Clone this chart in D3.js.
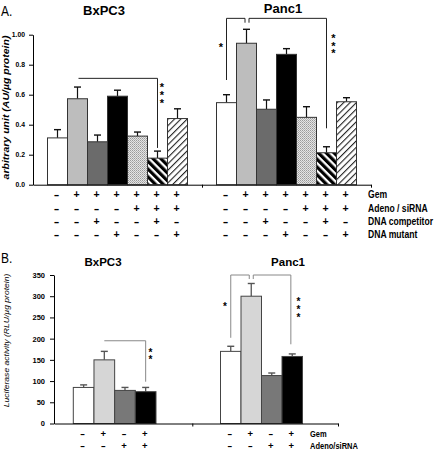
<!DOCTYPE html>
<html><head><meta charset="utf-8">
<script src="https://cdn.jsdelivr.net/npm/d3@7"></script>
<style>body{margin:0;background:#fff}svg{display:block;font-family:Arial,"Liberation Sans",sans-serif}</style>
</head><body>
<svg id="c" width="435" height="450"></svg>
<script>
// ---------- data ----------
const groups = ["BxPC3", "Panc1"];
// Panel A (arbitrary unit AU/µg protein)
const condA = ["ctrl", "gem", "gem+comp", "gem+mut", "gem+adeno", "gem+adeno+comp", "gem+adeno+mut"];
const bxpc3A = [0.312, 0.573, 0.286, 0.590, 0.324, 0.177, 0.441];
const bxpc3AErr = [0.055, 0.078, 0.045, 0.040, 0.027, 0.047, 0.065];
const panc1A = [0.547, 0.943, 0.503, 0.869, 0.449, 0.213, 0.553];
const panc1AErr = [0.053, 0.093, 0.062, 0.038, 0.071, 0.040, 0.027];
const yTicksA = [0, 0.2, 0.4, 0.6, 0.8, 1.0];
const yTickLabelsA = ["0.0", "0.2", "0.4", "0.6", "0.8", "1.00"];
const rowLabelsA = ["Gem", "Adeno / siRNA", "DNA competitor", "DNA mutant"];
const rowGemA = ["-", "+", "+", "+", "+", "+", "+"];
const rowAdenoA = ["-", "-", "-", "-", "+", "+", "+"];
const rowCompA = ["-", "-", "+", "-", "-", "+", "-"];
const rowMutA = ["-", "-", "-", "+", "-", "-", "+"];
// Panel B (Luciferase activity RLU/µg protein)
const condB = ["ctrl", "gem", "adeno", "gem+adeno"];
const bxpc3B = [85, 150, 78, 75];
const bxpc3BErr = [6, 20, 7, 10];
const panc1B = [170, 300, 113, 158];
const panc1BErr = [12, 30, 6, 6];
const yTicksB = [0, 50, 100, 150, 200, 250, 300, 350];
const rowLabelsB = ["Gem", "Adeno/siRNA"];
const rowGemB = ["-", "+", "-", "+"];
const rowAdenoB = ["-", "-", "+", "+"];

// ---------- setup ----------
const svg = d3.select("#c");
const defs = svg.append("defs");
const pd = defs.append("pattern").attr("id", "dots").attr("patternUnits", "userSpaceOnUse").attr("width", 2).attr("height", 2);
pd.append("rect").attr("width", 2).attr("height", 2).attr("fill", "#e4e4e4");
pd.append("rect").attr("width", 1).attr("height", 1).attr("fill", "#9a9a9a");
pd.append("rect").attr("x", 1).attr("y", 1).attr("width", 1).attr("height", 1).attr("fill", "#b4b4b4");
const ph = defs.append("pattern").attr("id", "hatchDark").attr("patternUnits", "userSpaceOnUse").attr("width", 5.5).attr("height", 6).attr("patternTransform", "rotate(-45)");
ph.append("rect").attr("width", 5.5).attr("height", 6).attr("fill", "#fff");
ph.append("rect").attr("width", 3.2).attr("height", 6).attr("fill", "#000");
const pl = defs.append("pattern").attr("id", "hatchLight").attr("patternUnits", "userSpaceOnUse").attr("width", 4.5).attr("height", 6).attr("patternTransform", "rotate(45)");
pl.append("rect").attr("width", 4.5).attr("height", 6).attr("fill", "#fff");
pl.append("rect").attr("width", 1.1).attr("height", 6).attr("fill", "#222");

const fillsA = ["#ffffff", "#bdbdbd", "#6b6b6b", "#000000", "url(#dots)", "url(#hatchDark)", "url(#hatchLight)"];
const fillsB = ["#ffffff", "#d6d6d6", "#787878", "#000000"];

function txt(x, y, s, o = {}) {
  return svg.append("text")
    .attr("transform", `translate(${x},${y}) rotate(${o.rot || 0}) scale(${o.sx || 1},${o.sy || 1})`)
    .attr("font-size", o.size || 10)
    .attr("font-weight", o.weight || "normal")
    .attr("font-style", o.style || "normal")
    .attr("text-anchor", o.anchor || "start")
    .attr("fill", o.fill || "#000")
    .text(s);
}
function sym(x, y, s, size) {
  // "-" drawn a little wider, like the reference
  return txt(x, y, s, { size: size, weight: "bold", anchor: "middle", sx: s === "-" ? 1.6 : 1 });
}

// ---------- Panel A ----------
const yA = d3.scaleLinear().domain([0, 1]).range([184.7, 34.7]);
const xAxisA = d3.scaleLinear().domain([0, 1, 2]).range([33, 202, 371]);
const xBandA = {
  BxPC3: d3.scaleBand().domain(condA).range([47.5, 187.5]).padding(0),
  Panc1: d3.scaleBand().domain(condA).range([216.5, 356.5]).padding(0)
};
const dataA = { BxPC3: [bxpc3A, bxpc3AErr], Panc1: [panc1A, panc1AErr] };

const gA = svg.append("g");
groups.forEach(gname => {
  const xs = xBandA[gname];
  const [vals, errs] = dataA[gname];
  condA.forEach((c, i) => {
    const x0 = xs(c), w = xs.bandwidth(), cx = x0 + w / 2;
    gA.append("line").attr("x1", cx).attr("x2", cx).attr("y1", yA(vals[i])).attr("y2", yA(vals[i] + errs[i])).attr("stroke", "#111").attr("stroke-width", 1.2);
    gA.append("line").attr("x1", cx - 3.5).attr("x2", cx + 3.5).attr("y1", yA(vals[i] + errs[i])).attr("y2", yA(vals[i] + errs[i])).attr("stroke", "#111").attr("stroke-width", 1.4);
    gA.append("rect").attr("x", x0).attr("y", yA(vals[i])).attr("width", w).attr("height", yA(0) - yA(vals[i]))
      .attr("fill", fillsA[i]).attr("stroke", "#333").attr("stroke-width", 1);
  });
});
const axLA = svg.append("g").attr("transform", `translate(33,0)`)
  .call(d3.axisLeft(yA).tickValues(yTicksA).tickFormat((d, i) => yTickLabelsA[i]).tickSize(4).tickSizeOuter(0));
axLA.selectAll("text").attr("font-size", 6.8).attr("font-weight", "bold").attr("font-family", "Arial, 'Liberation Sans', sans-serif").attr("dx", "-1");
axLA.selectAll("path,line").attr("stroke", "#000");
const axBA = svg.append("g").attr("transform", `translate(0,${yA(0)})`)
  .call(d3.axisBottom(xAxisA).tickValues([1, 2]).tickFormat("").tickSize(3).tickSizeOuter(0));
axBA.selectAll("path,line").attr("stroke", "#000");

txt(1, 16, "A.", { size: 12, sy: 1.2 });
txt(104, 15, "BxPC3", { size: 13, weight: "bold", anchor: "middle" });
txt(283, 13, "Panc1", { size: 13, weight: "bold", anchor: "middle" });
txt(9, 107.5, "arbitrary unit (AU/µg protein)", { size: 9, weight: "bold", style: "italic", anchor: "middle", rot: -90, sx: 1.17 });

const rowsA = [rowGemA, rowAdenoA, rowCompA, rowMutA];
const rowYA = [198.3, 211.6, 224.8, 237.9];
rowsA.forEach((row, r) => {
  groups.forEach(gname => {
    const xs = xBandA[gname];
    condA.forEach((c, i) => sym(xs(c) + xs.bandwidth() / 2 - 1, rowYA[r], row[i], 10.5));
  });
  txt(368, rowYA[r], rowLabelsA[r], { size: 8.6, weight: "bold", sy: 1.2 });
});

function bracket(g, pts, color) {
  g.append("path").attr("d", d3.line()(pts)).attr("fill", "none").attr("stroke", color).attr("stroke-width", 1);
}
function stars(x, y0, n, step, size) {
  for (let k = 0; k < n; k++) txt(x, y0 + k * step, "*", { size: size, weight: "bold", anchor: "middle" });
}
const cA = (gname, c) => xBandA[gname](c) + xBandA[gname].bandwidth() / 2;
bracket(svg, [[cA("BxPC3", "gem") + 1, yA(0.709)], [cA("BxPC3", "gem+adeno+comp"), yA(0.709)], [cA("BxPC3", "gem+adeno+comp"), yA(0.245)]], "#222");
stars(162, 91, 3, 7.8, 11);
bracket(svg, [[cA("Panc1", "ctrl"), yA(0.698)], [cA("Panc1", "ctrl"), yA(1.109)], [cA("Panc1", "gem") - 1.5, yA(1.109)], [cA("Panc1", "gem") - 1.5, yA(1.08)]], "#222");
bracket(svg, [[cA("Panc1", "gem") + 2.5, yA(1.08)], [cA("Panc1", "gem") + 2.5, yA(1.109)], [cA("Panc1", "gem+adeno+comp"), yA(1.109)], [cA("Panc1", "gem+adeno+comp"), yA(0.376)]], "#222");
stars(221, 51, 1, 0, 11);
stars(333.5, 42, 3, 7.6, 11);

// ---------- Panel B ----------
const yB = d3.scaleLinear().domain([0, 350]).range([423.5, 275]);
const xAxisB = d3.scaleLinear().domain([0, 1, 2]).range([54, 192.3, 338]);
const xBandB = {
  BxPC3: d3.scaleBand().domain(condB).range([73.3, 156]).padding(0),
  Panc1: d3.scaleBand().domain(condB).range([220.5, 302.5]).padding(0)
};
const dataB = { BxPC3: [bxpc3B, bxpc3BErr], Panc1: [panc1B, panc1BErr] };
const gB = svg.append("g");
groups.forEach(gname => {
  const xs = xBandB[gname];
  const [vals, errs] = dataB[gname];
  condB.forEach((c, i) => {
    const x0 = xs(c), w = xs.bandwidth(), cx = x0 + w / 2;
    gB.append("line").attr("x1", cx).attr("x2", cx).attr("y1", yB(vals[i])).attr("y2", yB(vals[i] + errs[i])).attr("stroke", "#555").attr("stroke-width", 1.3);
    gB.append("line").attr("x1", cx - 3.5).attr("x2", cx + 3.5).attr("y1", yB(vals[i] + errs[i])).attr("y2", yB(vals[i] + errs[i])).attr("stroke", "#555").attr("stroke-width", 1.4);
    gB.append("rect").attr("x", x0).attr("y", yB(vals[i])).attr("width", w).attr("height", yB(0) - yB(vals[i]))
      .attr("fill", fillsB[i]).attr("stroke", "#444").attr("stroke-width", 1);
  });
});
const axLB = svg.append("g").attr("transform", `translate(54,0)`)
  .call(d3.axisLeft(yB).tickValues(yTicksB).tickSize(4).tickSizeOuter(0));
axLB.selectAll("text").attr("font-size", 7.5).attr("font-weight", "bold").attr("font-family", "Arial, 'Liberation Sans', sans-serif").attr("dx", "-2");
axLB.selectAll("path,line").attr("stroke", "#000");
const axBB = svg.append("g").attr("transform", `translate(0,${yB(0)})`)
  .call(d3.axisBottom(xAxisB).tickValues([1, 2]).tickFormat("").tickSize(3).tickSizeOuter(0));
axBB.selectAll("path,line").attr("stroke", "#000");

txt(1, 263, "B.", { size: 12, sy: 1.2 });
txt(103, 266, "BxPC3", { size: 11.5, weight: "bold", anchor: "middle" });
txt(288, 266, "Panc1", { size: 11.5, weight: "bold", anchor: "middle" });
txt(9, 340.5, "Luciferase activity (RLU/µg protein)", { size: 8, style: "italic", anchor: "middle", rot: -90, sx: 1.07 });

const rowsB = [rowGemB, rowAdenoB];
const rowYB = [437.2, 449];
rowsB.forEach((row, r) => {
  groups.forEach(gname => {
    const xs = xBandB[gname];
    condB.forEach((c, i) => sym(xs(c) + xs.bandwidth() / 2 - 1, rowYB[r], row[i], 9.5));
  });
  txt(310, rowYB[r], rowLabelsB[r], { size: 7.5, weight: "bold", sy: 1.15 });
});

const cB = (gname, c) => xBandB[gname](c) + xBandB[gname].bandwidth() / 2;
bracket(svg, [[cB("BxPC3", "gem"), yB(195)], [cB("BxPC3", "gem+adeno"), yB(195)], [cB("BxPC3", "gem+adeno"), yB(98.5)]], "#888");
stars(150.5, 356, 2, 7.2, 10);
bracket(svg, [[cB("Panc1", "ctrl"), yB(202)], [cB("Panc1", "ctrl"), yB(350)], [cB("Panc1", "gem") - 2, yB(350)], [cB("Panc1", "gem") - 2, yB(340.5)]], "#888");
bracket(svg, [[cB("Panc1", "gem") + 2, yB(340.5)], [cB("Panc1", "gem") + 2, yB(350)], [cB("Panc1", "gem+adeno") - 1.4, yB(350)], [cB("Panc1", "gem+adeno") - 1.4, yB(186.7)]], "#888");
stars(225, 310, 1, 0, 10);
stars(298.5, 305, 3, 7.8, 10);
</script>
</body></html>
